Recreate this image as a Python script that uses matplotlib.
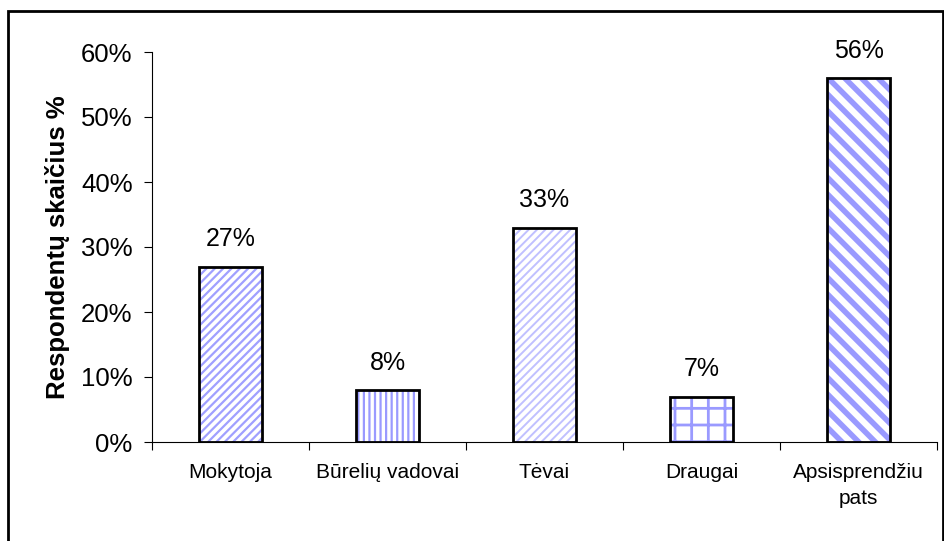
import matplotlib
matplotlib.use("Agg")
import matplotlib.pyplot as plt
from matplotlib.patches import Rectangle

plt.rcParams['font.family'] = ['Liberation Sans', 'DejaVu Sans']

# Duomenys
categories = ["Mokytoja", "Būrelių vadovai", "Tėvai", "Draugai", "Apsisprendžiu\npats"]
values = [27, 8, 33, 7, 56]
hatches = ["////", "|||", "////", "+", "\\\\"]
hatch_colors = ["#a0a0ff", "#9a9aff", "#c0c0ff", "#9a9aff", "#9a9aff"]
hatch_widths = [1.6, 1.6, 1.4, 2.0, 4.0]
yticks = [0, 10, 20, 30, 40, 50, 60]

fig = plt.figure(figsize=(9.45, 5.41), dpi=100)
ax = fig.add_axes([152 / 945, 99 / 541, 785 / 945, 390 / 541])

# ramka aplink visa paveiksla
fig.patches.append(Rectangle((8 / 945, -0.05), 935 / 945, 1.05 - 11 / 541,
                             transform=fig.transFigure, fill=False,
                             edgecolor="black", linewidth=2))

x = list(range(len(categories)))
for i, v in enumerate(values):
    b = ax.bar(x[i], v, width=0.4, color="white", edgecolor=hatch_colors[i],
               hatch=hatches[i], linewidth=0)
    try:
        b[0].set_hatch_linewidth(hatch_widths[i])
    except AttributeError:
        pass
    ax.bar(x[i], v, width=0.4, fill=False, edgecolor="black", linewidth=2)
    ax.annotate(f"{v}%", (x[i], v), xytext=(0, 11), textcoords="offset points",
                ha="center", va="bottom", fontsize=18)

ax.set_xlim(-0.5, len(categories) - 0.5)
ax.set_ylim(0, 60)
ax.set_yticks(yticks)
ax.set_yticklabels([f"{t}%" for t in yticks], fontsize=18.5)
ax.set_xticks([i + 0.5 for i in range(-1, len(categories))], minor=False)
ax.set_xticklabels([])
ax.set_xticks(x, minor=True)
ax.set_xticklabels(categories, minor=True, fontsize=15, linespacing=1.5)
ax.tick_params(axis="x", which="minor", length=0, pad=15)
ax.tick_params(axis="x", which="major", length=6, direction="out")
ax.tick_params(axis="y", length=6, direction="out", pad=8)

ax.set_ylabel("Respondentų skaičius %", fontsize=18.5, fontweight="bold", labelpad=8)

ax.spines["top"].set_visible(False)
ax.spines["right"].set_visible(False)

fig.savefig("out.png", dpi=100)
